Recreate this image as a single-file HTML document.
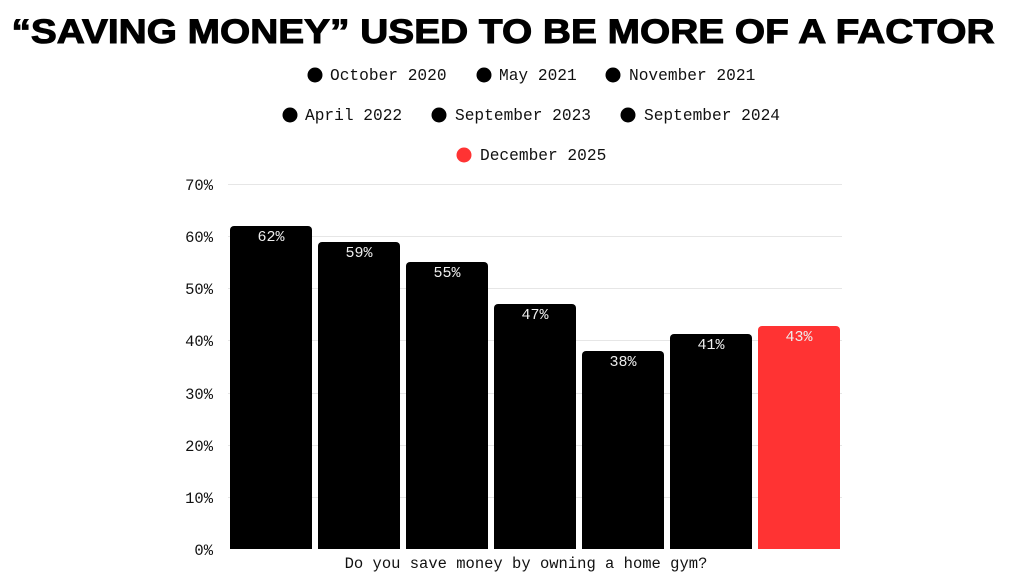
<!DOCTYPE html>
<html><head><meta charset="utf-8"><style>
html,body{margin:0;padding:0;background:#fff;width:1024px;height:576px;overflow:hidden}
svg{display:block}
.m{font-family:"Liberation Mono",monospace;font-size:15.5px;fill:#111}
.l{font-family:"Liberation Mono",monospace;font-size:16.2px;fill:#111}
.w{font-family:"Liberation Mono",monospace;font-size:15px;fill:#eee}
</style></head><body>
<svg width="1024" height="576" viewBox="0 0 1024 576">
<text x="503" y="43" text-anchor="middle" font-family="Liberation Sans, sans-serif" font-weight="900" font-size="34" textLength="983" lengthAdjust="spacingAndGlyphs" fill="#000" stroke="#000" stroke-width="1">“SAVING MONEY” USED TO BE MORE OF A FACTOR</text>
<g class="l">
<circle cx="315" cy="75" r="7.5" fill="#000"/><text x="330" y="80">October 2020</text>
<circle cx="484" cy="75" r="7.5" fill="#000"/><text x="499" y="80">May 2021</text>
<circle cx="613" cy="75" r="7.5" fill="#000"/><text x="629" y="80">November 2021</text>
<circle cx="290" cy="115" r="7.5" fill="#000"/><text x="305" y="120">April 2022</text>
<circle cx="439" cy="115" r="7.5" fill="#000"/><text x="455" y="120">September 2023</text>
<circle cx="628" cy="115" r="7.5" fill="#000"/><text x="644" y="120">September 2024</text>
<circle cx="464" cy="155" r="7.5" fill="#ff3333"/><text x="480" y="160">December 2025</text>
</g>
<g stroke="#e6e6e6" stroke-width="1">
<line x1="228" x2="842" y1="184.5" y2="184.5"/><line x1="228" x2="842" y1="236.5" y2="236.5"/>
<line x1="228" x2="842" y1="288.5" y2="288.5"/><line x1="228" x2="842" y1="340.5" y2="340.5"/>
<line x1="228" x2="842" y1="393.5" y2="393.5"/><line x1="228" x2="842" y1="445.5" y2="445.5"/>
<line x1="228" x2="842" y1="497.5" y2="497.5"/><line x1="228" x2="842" y1="549.5" y2="549.5"/>
</g>
<g class="m" text-anchor="end">
<text x="213" y="190">70%</text><text x="213" y="242">60%</text><text x="213" y="294">50%</text>
<text x="213" y="346">40%</text><text x="213" y="399">30%</text><text x="213" y="451">20%</text>
<text x="213" y="503">10%</text><text x="213" y="555">0%</text>
</g>
<g>
<rect x="230" y="226" width="82" height="330" rx="4" fill="#000"/>
<rect x="318" y="242" width="82" height="314" rx="4" fill="#000"/>
<rect x="406" y="262" width="82" height="294" rx="4" fill="#000"/>
<rect x="494" y="304" width="82" height="252" rx="4" fill="#000"/>
<rect x="582" y="351" width="82" height="205" rx="4" fill="#000"/>
<rect x="670" y="334" width="82" height="222" rx="4" fill="#000"/>
<rect x="758" y="326" width="82" height="230" rx="4" fill="#ff3333"/>
<rect x="228" y="549" width="614" height="27" fill="#fff"/>
</g>
<g class="w" text-anchor="middle">
<text x="271" y="241">62%</text><text x="359" y="257">59%</text><text x="447" y="277">55%</text>
<text x="535" y="319">47%</text><text x="623" y="366">38%</text><text x="711" y="349">41%</text>
<text x="799" y="341">43%</text>
</g>
<text class="m" x="526" y="568" text-anchor="middle">Do you save money by owning a home gym?</text>
</svg>
</body></html>
